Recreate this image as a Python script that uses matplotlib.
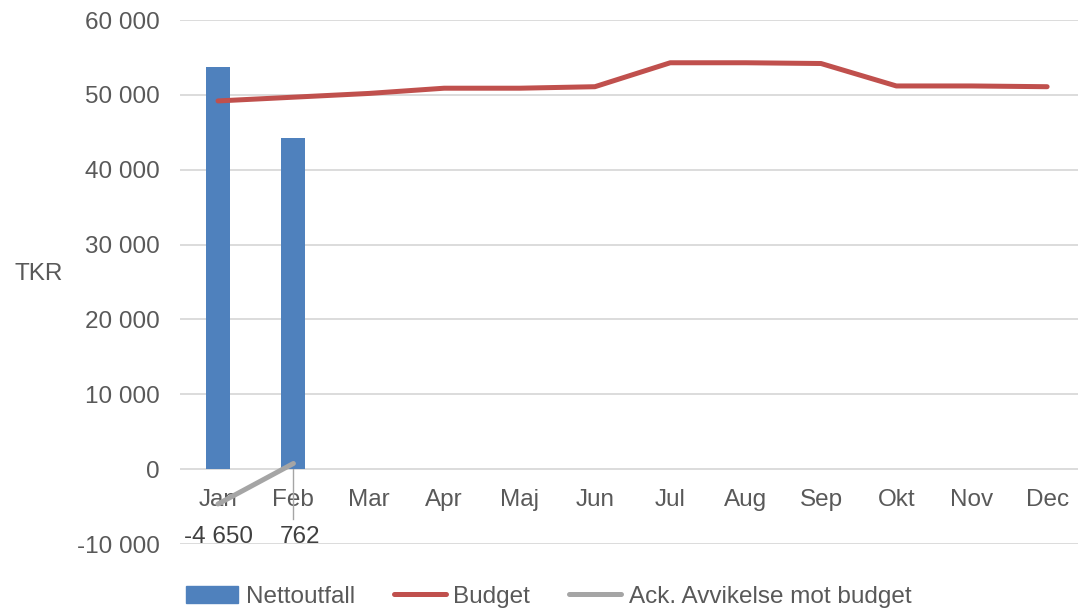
import numpy as np
import matplotlib.pyplot as plt
from matplotlib.patches import Patch
from matplotlib.lines import Line2D

plt.rcParams['font.family'] = ['Liberation Sans', 'DejaVu Sans']

months = ['Jan', 'Feb', 'Mar', 'Apr', 'Maj', 'Jun', 'Jul', 'Aug', 'Sep', 'Okt', 'Nov', 'Dec']
nettoutfall = [53800, 44200]
budget = [49200, 49700, 50200, 50900, 50900, 51100, 54300, 54300, 54200, 51200, 51200, 51100]
ack_avvikelse = [-4650, 762]
yticks = [-10000, 0, 10000, 20000, 30000, 40000, 50000, 60000]

blue = '#4f81bd'
red = '#c0504d'
gray = '#a5a5a5'
text_col = '#595959'
fs = 17.5

fig = plt.figure(figsize=(10.78, 6.09), dpi=100)
ax = fig.add_axes([0.1673, 0.1067, 0.839, 0.8603])

x = np.arange(len(months))
ax.bar(x[:len(nettoutfall)], nettoutfall, width=0.32, color=blue, zorder=3)
ax.plot(x, budget, color=red, lw=3.6, solid_capstyle='round', solid_joinstyle='round', zorder=4)
ax.plot(x[:len(ack_avvikelse)], ack_avvikelse, color=gray, lw=3.6, solid_capstyle='round', zorder=4)

# data labels for the accumulated deviation
ax.annotate('-4 650', (x[0], ack_avvikelse[0]), xytext=(x[0], -9100),
            ha='center', va='center', fontsize=fs, color='#404040')
ax.annotate('762', (x[1], ack_avvikelse[1]), xytext=(x[1] + 0.09, -9100),
            ha='center', va='center', fontsize=fs, color='#404040')
ax.plot([x[1], x[1]], [ack_avvikelse[1], -6600], color=gray, lw=1, zorder=2)

ax.set_xlim(-0.5, 11.5)
ax.set_ylim(-10000, 60000)
ax.set_yticks(yticks)
ax.set_yticklabels([f'{v:,}'.replace(',', ' ') for v in yticks])
ax.set_xticks(x)
ax.set_xticklabels(months)
ax.grid(axis='y', color='#d9d9d9', lw=1.3, zorder=0)
ax.set_axisbelow(True)

for side in ['top', 'right', 'left']:
    ax.spines[side].set_visible(False)
ax.spines['bottom'].set_position(('data', 0))
ax.spines['bottom'].set_color('none')
ax.tick_params(axis='y', length=0, pad=15, labelsize=fs, labelcolor=text_col)
ax.tick_params(axis='x', length=0, pad=14, labelsize=fs, labelcolor=text_col)

ax.set_ylabel('TKR', rotation=0, fontsize=fs, color=text_col, labelpad=0)
ax.yaxis.set_label_coords(-0.157, 0.494)

handles = [
    Patch(color=blue),
    Line2D([0], [0], color=red, lw=3.6, solid_capstyle='round'),
    Line2D([0], [0], color=gray, lw=3.6, solid_capstyle='round'),
]
labels = ['Nettoutfall', 'Budget', 'Ack. Avvikelse mot budget']
leg = fig.legend(handles, labels, loc='center', bbox_to_anchor=(0.509, 0.02), ncol=3,
                 frameon=False, fontsize=fs, handlelength=2.15, handletextpad=0.3,
                 columnspacing=1.6, handleheight=0.7)
for t in leg.get_texts():
    t.set_color(text_col)

fig.savefig('out.png', dpi=100)
